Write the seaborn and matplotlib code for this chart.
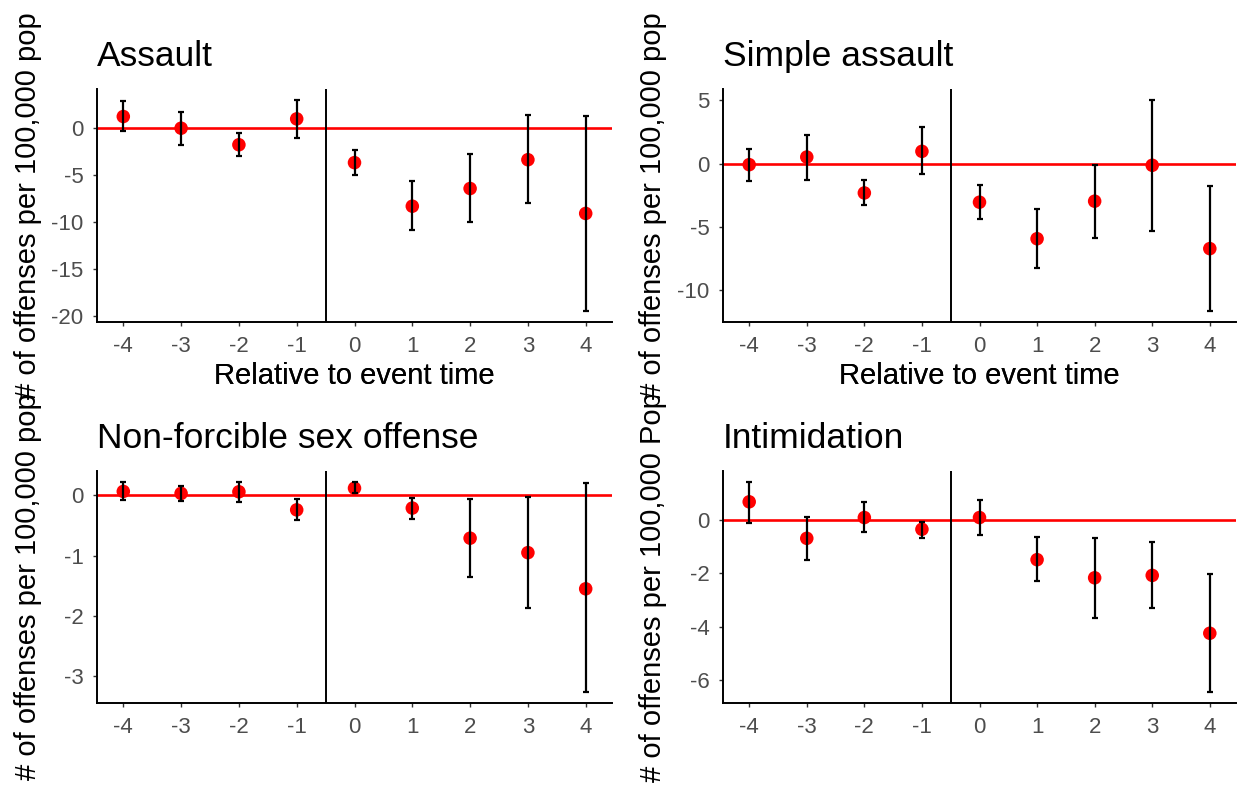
import matplotlib
matplotlib.use("Agg")
import matplotlib.pyplot as plt
import seaborn as sns
import numpy as np
import pandas as pd
from matplotlib.transforms import Bbox, TransformedBbox

# ---- data: event-study coefficients with confidence bounds ----
event_time = [-4, -3, -2, -1, 0, 1, 2, 3, 4]

assault_est = [1.24, 0.00, -1.76, 0.99, -3.66, -8.29, -6.41, -3.35, -9.06]
assault_lo = [-0.35, -1.76, -2.92, -1.06, -5.00, -10.83, -9.95, -8.00, -19.47]
assault_hi = [2.86, 1.77, -0.53, 3.04, -2.29, -5.64, -2.78, 1.45, 1.34]

simple_est = [-0.08, 0.52, -2.31, 0.97, -3.04, -5.92, -2.96, -0.13, -6.70]
simple_lo = [-1.39, -1.31, -3.25, -0.84, -4.35, -8.24, -5.89, -5.31, -11.65]
simple_hi = [1.15, 2.27, -1.31, 2.85, -1.68, -3.59, -0.08, 5.05, -1.73]

nonforcible_est = [0.066, 0.033, 0.06, -0.24, 0.12, -0.21, -0.71, -0.95, -1.55]
nonforcible_lo = [-0.08, -0.09, -0.11, -0.41, 0.04, -0.39, -1.36, -1.87, -3.27]
nonforcible_hi = [0.22, 0.16, 0.23, -0.066, 0.23, -0.04, -0.066, -0.03, 0.20]

intim_est = [0.68, -0.69, 0.09, -0.35, 0.09, -1.49, -2.17, -2.08, -4.25]
intim_lo = [-0.11, -1.49, -0.47, -0.66, -0.55, -2.30, -3.66, -3.31, -6.47]
intim_hi = [1.44, 0.11, 0.66, -0.09, 0.73, -0.64, -0.67, -0.84, -2.02]

titles = ["Assault", "Simple assault", "Non-forcible sex offense", "Intimidation"]
ylabels = ["# of offenses per 100,000 pop", "# of offenses per 100,000 pop",
           "# of offenses per 100,000 pop", "# of offenses per 100,000 Pop"]
xlabel = "Relative to event time"
yticks = [[0, -5, -10, -15, -20], [5, 0, -5, -10], [0, -1, -2, -3], [0, -2, -4, -6]]
xticks = event_time

panels = [
    (assault_est, assault_lo, assault_hi),
    (simple_est, simple_lo, simple_hi),
    (nonforcible_est, nonforcible_lo, nonforcible_hi),
    (intim_est, intim_lo, intim_hi),
]

sns.set_theme(style="ticks")
plt.rcParams["font.family"] = ["Liberation Sans", "DejaVu Sans"]

W, H = 1238, 792
fig = plt.figure(figsize=(W / 100, H / 100), dpi=100)

# panel rectangles in pixels: (left, top, right, bottom)
rects = [(97, 89, 612, 322), (723, 89, 1236, 322),
         (97, 471, 612, 703), (723, 471, 1236, 703)]
ylab_x = [28, 653, 28, 653]

for i, (est, lo, hi) in enumerate(panels):
    l, t, r, b = rects[i]
    ax = fig.add_axes([l / W, 1 - b / H, (r - l) / W, (b - t) / H])
    df = pd.DataFrame({"t": event_time, "est": est, "lo": lo, "hi": hi})

    ax.axhline(0, color="#FF0000", lw=1.9, zorder=1)
    ax.axvline(-0.5, color="black", lw=1.4, zorder=1)
    sns.scatterplot(data=df, x="t", y="est", ax=ax, color="#FF0000", s=95,
                    edgecolor="none", zorder=3)
    ax.errorbar(df["t"], df["est"],
                yerr=[df["est"] - df["lo"], df["hi"] - df["est"]],
                fmt="none", ecolor="black", elinewidth=1.6, capsize=2.2,
                capthick=1.6, zorder=4)

    # ggplot-style 5% expansion of the data range
    ymin, ymax = min(min(lo), 0), max(max(hi), 0)
    span = ymax - ymin
    ax.set_ylim(ymin - 0.05 * span, ymax + 0.05 * span)
    ax.set_xlim(-4.455, 4.455)
    ax.set_xticks(xticks)
    ax.set_xticklabels([str(v) for v in xticks])
    ax.set_yticks(yticks[i])
    ax.set_yticklabels([str(v) for v in yticks[i]])

    for side in ["top", "right"]:
        ax.spines[side].set_visible(False)
    for side in ["left", "bottom"]:
        ax.spines[side].set_color("black")
        ax.spines[side].set_linewidth(1.4)
    ax.tick_params(axis="both", colors="#333333", length=2.75, width=1.0,
                   labelsize=16, labelcolor="#4D4D4D")
    ax.tick_params(axis="x", pad=7.5)
    ax.tick_params(axis="y", pad=7)
    ax.set_xlabel(xlabel, fontsize=21, color="black")
    ax.xaxis.set_label_coords(0.5, (b - 376) / (b - t))
    ax.xaxis.label.set_va("center")
    ax.set_ylabel("")
    ax.text(0, 1 + 23 / (b - t), titles[i], transform=ax.transAxes,
            fontsize=25.5, ha="left", va="baseline", color="black")

    # rotated axis title, clipped to its own quadrant
    cy = (t + b) / 2
    txt = fig.text(ylab_x[i] / W, 1 - cy / H, ylabels[i], rotation=90,
                   ha="center", va="center", fontsize=21, color="black")
    if i >= 2:
        clip = TransformedBbox(Bbox([[0, 0], [1, 0.5]]), fig.transFigure)
        txt.set_clip_box(clip)
        txt.set_clip_on(True)

fig.savefig("out.png", dpi=100, facecolor="white")
